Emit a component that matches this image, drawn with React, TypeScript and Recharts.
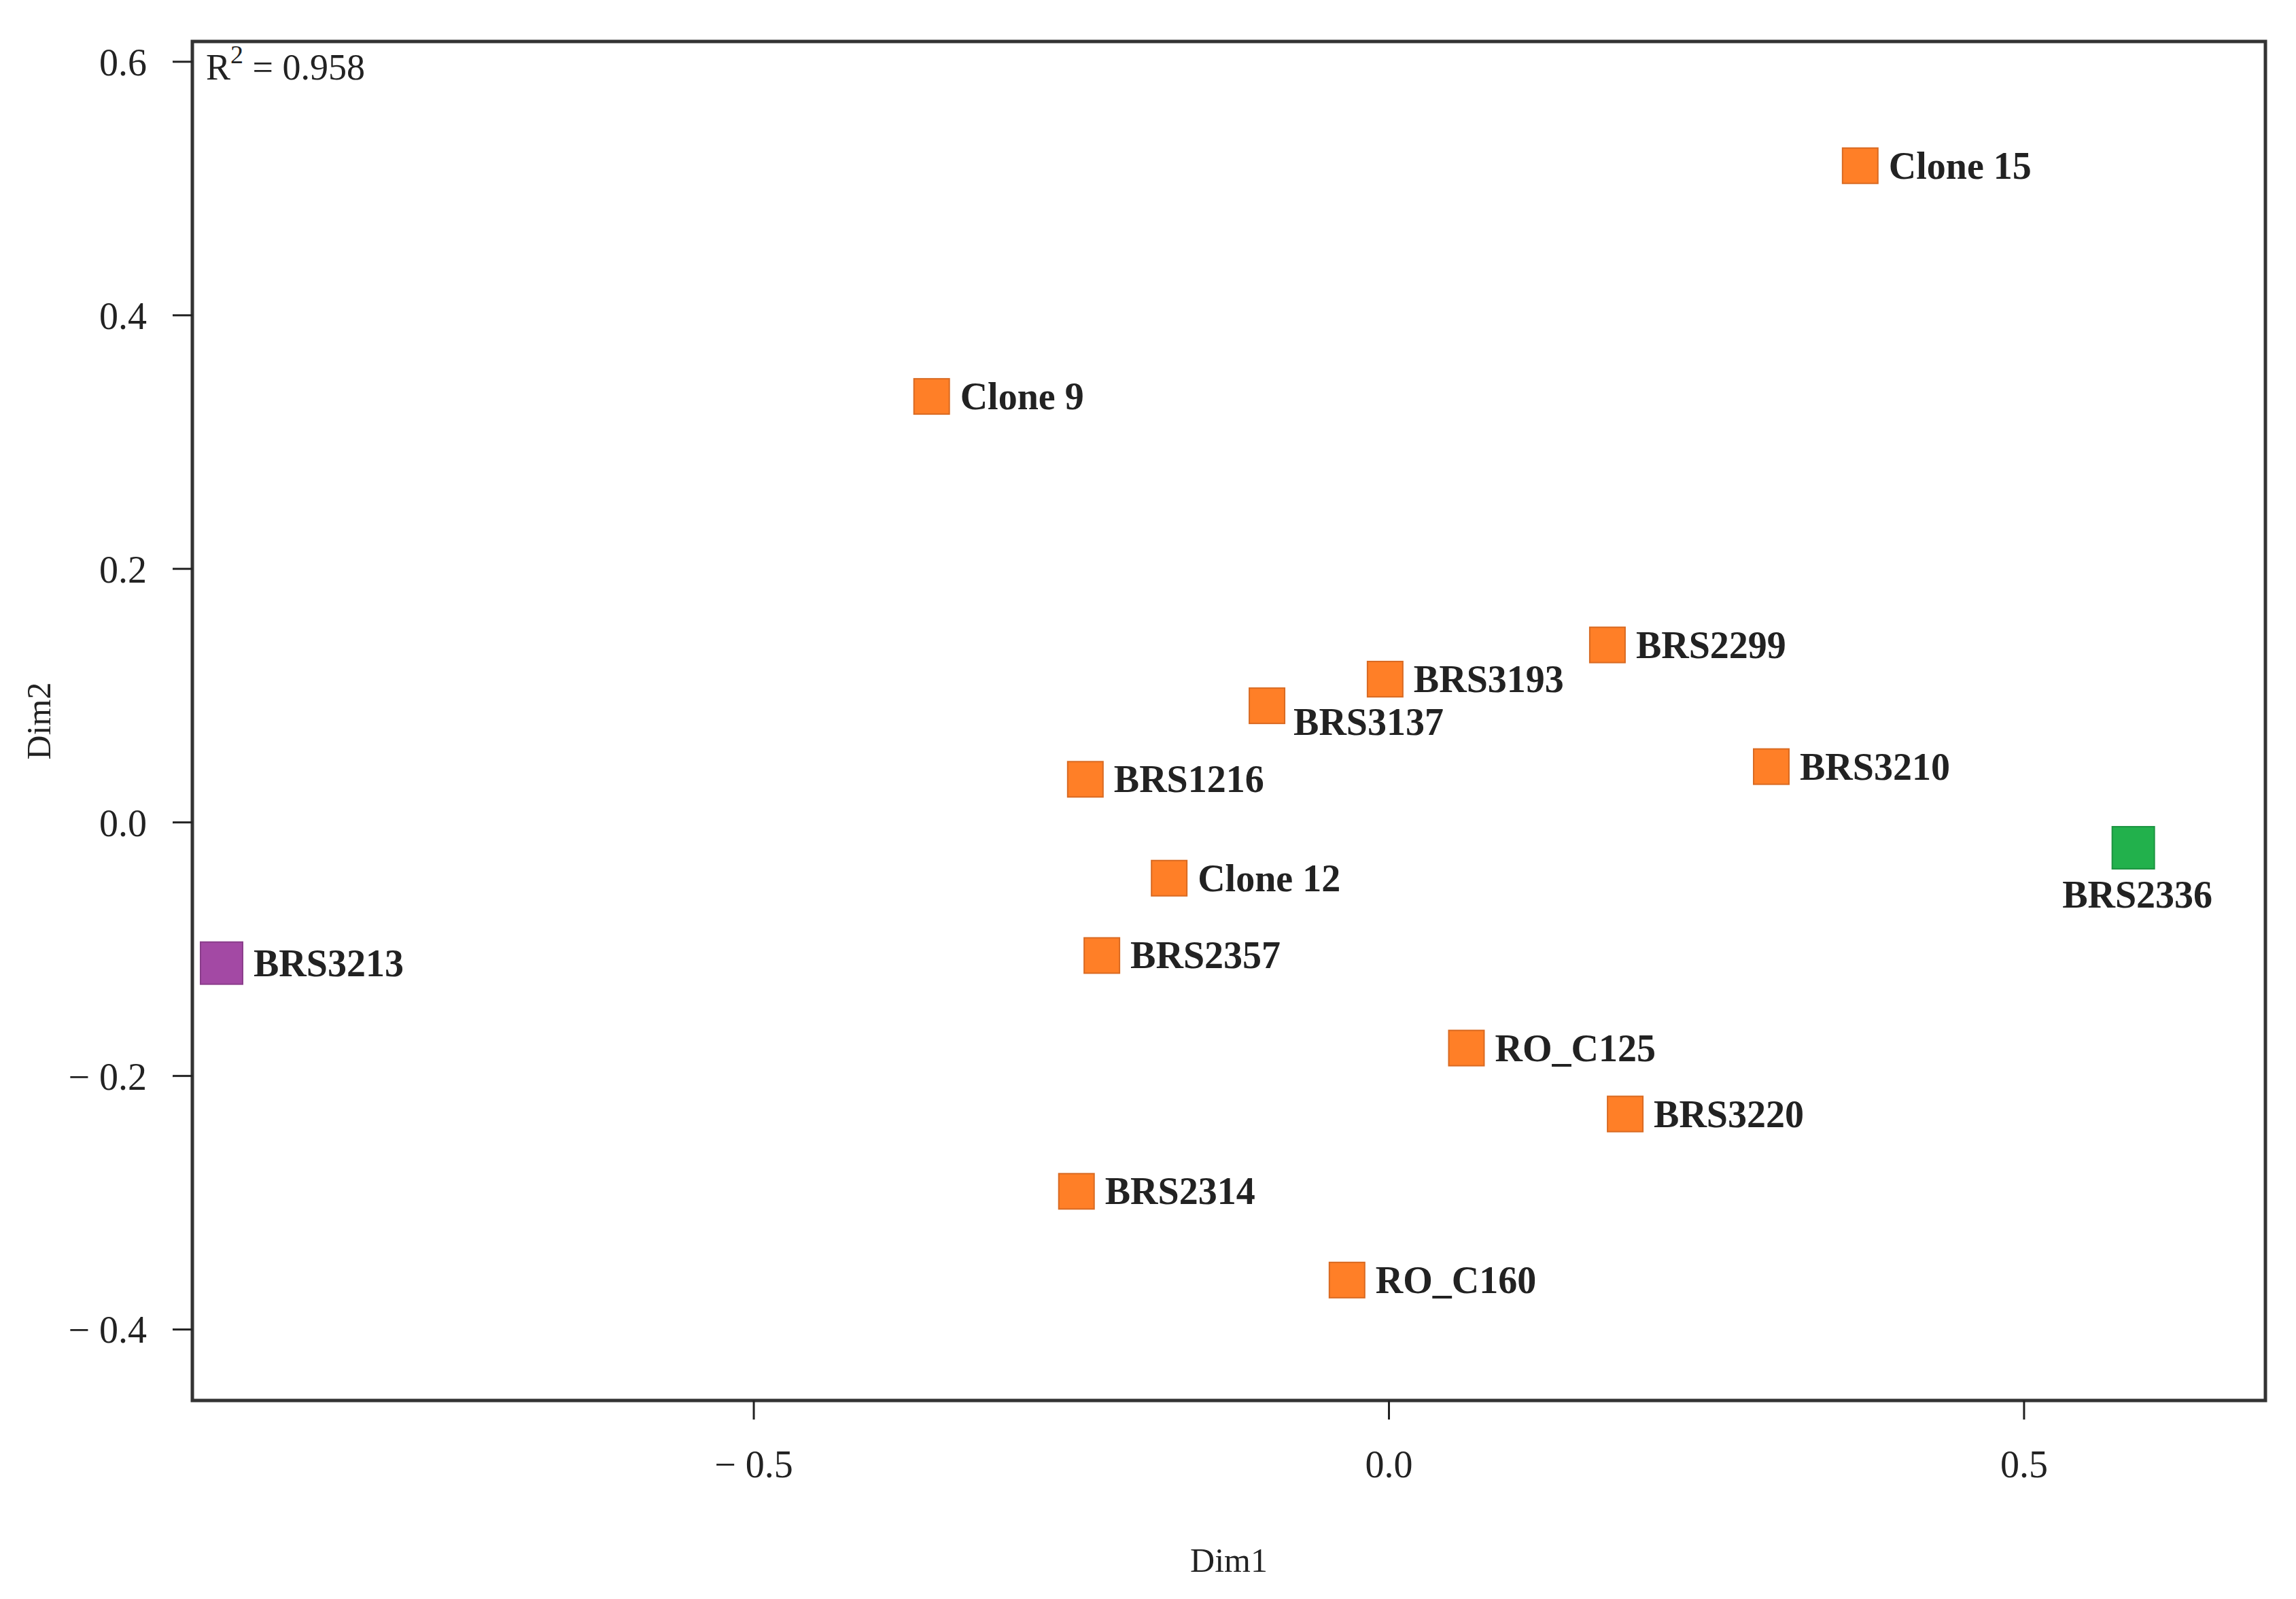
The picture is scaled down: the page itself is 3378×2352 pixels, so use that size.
import React from "react";
import {
  ScatterChart,
  Scatter,
  XAxis,
  YAxis,
  ReferenceArea,
} from "recharts";

if (typeof document !== "undefined") {
  document.body.style.margin = "0";
}

// ---- data ----
const genotypes = [
  "Clone 15",
  "Clone 9",
  "BRS2299",
  "BRS3193",
  "BRS3137",
  "BRS1216",
  "BRS3210",
  "Clone 12",
  "BRS2357",
  "RO_C125",
  "BRS3220",
  "BRS2314",
  "RO_C160",
];
const dim1 = [0.371, -0.36, 0.172, -0.003, -0.096, -0.239, 0.301, -0.173, -0.226, 0.061, 0.186, -0.246, -0.033];
const dim2 = [0.518, 0.336, 0.14, 0.113, 0.092, 0.034, 0.044, -0.044, -0.105, -0.178, -0.23, -0.291, -0.361];

const greenNames = ["BRS2336"];
const greenDim1 = [0.586];
const greenDim2 = [-0.02];

const purpleNames = ["BRS3213"];
const purpleDim1 = [-0.919];
const purpleDim2 = [-0.111];

const xTicks = [-0.5, 0, 0.5];
const yTicks = [-0.4, -0.2, 0, 0.2, 0.4, 0.6];
const xDomain: [number, number] = [-0.942, 0.69];
const yDomain: [number, number] = [-0.456, 0.616];
const r2Text = "0.958";

const build = (names: string[], xs: number[], ys: number[]) =>
  names.map((n, i) => ({ name: n, x: xs[i], y: ys[i] }));

const orangeData = build(genotypes, dim1, dim2);
const greenData = build(greenNames, greenDim1, greenDim2);
const purpleData = build(purpleNames, purpleDim1, purpleDim2);

// ---- styling ----
const SERIF = "'Liberation Serif', 'Times New Roman', serif";
const labelPlacement: Record<string, "right" | "belowRight" | "below"> = {
  BRS3137: "belowRight",
  BRS2336: "below",
};

const makeShape = (fill: string, stroke: string, size: number) => (props: any) => {
  const { cx, cy, payload } = props;
  if (cx == null || cy == null) return <g />;
  const place = labelPlacement[payload.name] || "right";
  let tx = cx + size / 2 + 16;
  let ty = cy + 19;
  let anchor: "start" | "middle" = "start";
  if (place === "belowRight") {
    tx = cx + size / 2 + 13;
    ty = cy + 43;
  } else if (place === "below") {
    tx = cx + 6;
    ty = cy + 88;
    anchor = "middle";
  }
  return (
    <g>
      <rect
        x={cx - size / 2}
        y={cy - size / 2}
        width={size}
        height={size}
        fill={fill}
        stroke={stroke}
        strokeWidth={2}
      />
      <text
        x={tx}
        y={ty}
        textAnchor={anchor}
        fontFamily={SERIF}
        fontWeight="bold"
        fontSize={56}
        fill="#222"
      >
        {payload.name}
      </text>
    </g>
  );
};

const fmt = (v: number) => (v < 0 ? `\u2212 ${Math.abs(v).toFixed(1)}` : v.toFixed(1));

export default function App() {
  return (
    <div style={{ width: 3378, height: 2352, background: "#fff" }}>
      <ScatterChart
        width={3378}
        height={2352}
        margin={{ top: 61, right: 45, left: 0, bottom: 0 }}
      >
        <XAxis
          type="number"
          dataKey="x"
          domain={xDomain}
          ticks={xTicks}
          allowDataOverflow
          height={292}
          axisLine={false}
          tickLine={{ stroke: "#222", strokeWidth: 3 }}
          tickSize={28}
          tickMargin={45}
          tickFormatter={fmt}
          tick={{ fontFamily: SERIF, fontSize: 56, fill: "#222" }}
          label={{
            content: (p: any) => {
              const vb = p.viewBox;
              return (
                <text
                  x={vb.x + vb.width / 2}
                  y={vb.y + 252}
                  textAnchor="middle"
                  fontFamily={SERIF}
                  fontSize={50}
                  fill="#222"
                >
                  Dim1
                </text>
              );
            },
          }}
        />
        <YAxis
          type="number"
          dataKey="y"
          domain={yDomain}
          ticks={yTicks}
          allowDataOverflow
          width={283}
          axisLine={false}
          tickLine={{ stroke: "#222", strokeWidth: 3 }}
          tickSize={29}
          tickMargin={38}
          tickFormatter={fmt}
          tick={{ fontFamily: SERIF, fontSize: 56, fill: "#222" }}
          label={{
            content: (p: any) => {
              const vb = p.viewBox;
              const cy = vb.y + vb.height / 2;
              return (
                <text
                  x={74}
                  y={cy}
                  textAnchor="middle"
                  transform={`rotate(-90, 74, ${cy})`}
                  fontFamily={SERIF}
                  fontSize={50}
                  fill="#222"
                >
                  Dim2
                </text>
              );
            },
          }}
        />
        <ReferenceArea
          x1={xDomain[0]}
          x2={xDomain[1]}
          y1={yDomain[0]}
          y2={yDomain[1]}
          fill="none"
          fillOpacity={0}
          stroke="#333"
          strokeWidth={5}
          label={{
            content: (p: any) => {
              const vb = p.viewBox;
              return (
                <text
                  x={vb.x + 20}
                  y={vb.y + 56}
                  fontFamily={SERIF}
                  fontSize={54}
                  fill="#222"
                >
                  R
                  <tspan fontSize={38} dy={-24}>
                    2
                  </tspan>
                  <tspan dy={24}>{` = ${r2Text}`}</tspan>
                </text>
              );
            },
          }}
        />
        <Scatter
          data={orangeData}
          fill="#FF7F27"
          shape={makeShape("#FF7F27", "#D96A22", 52)}
          isAnimationActive={false}
        />
        <Scatter
          data={greenData}
          fill="#22B14C"
          shape={makeShape("#22B14C", "#1C9440", 62)}
          isAnimationActive={false}
        />
        <Scatter
          data={purpleData}
          fill="#A349A4"
          shape={makeShape("#A349A4", "#8A3D8B", 62)}
          isAnimationActive={false}
        />
      </ScatterChart>
    </div>
  );
}
